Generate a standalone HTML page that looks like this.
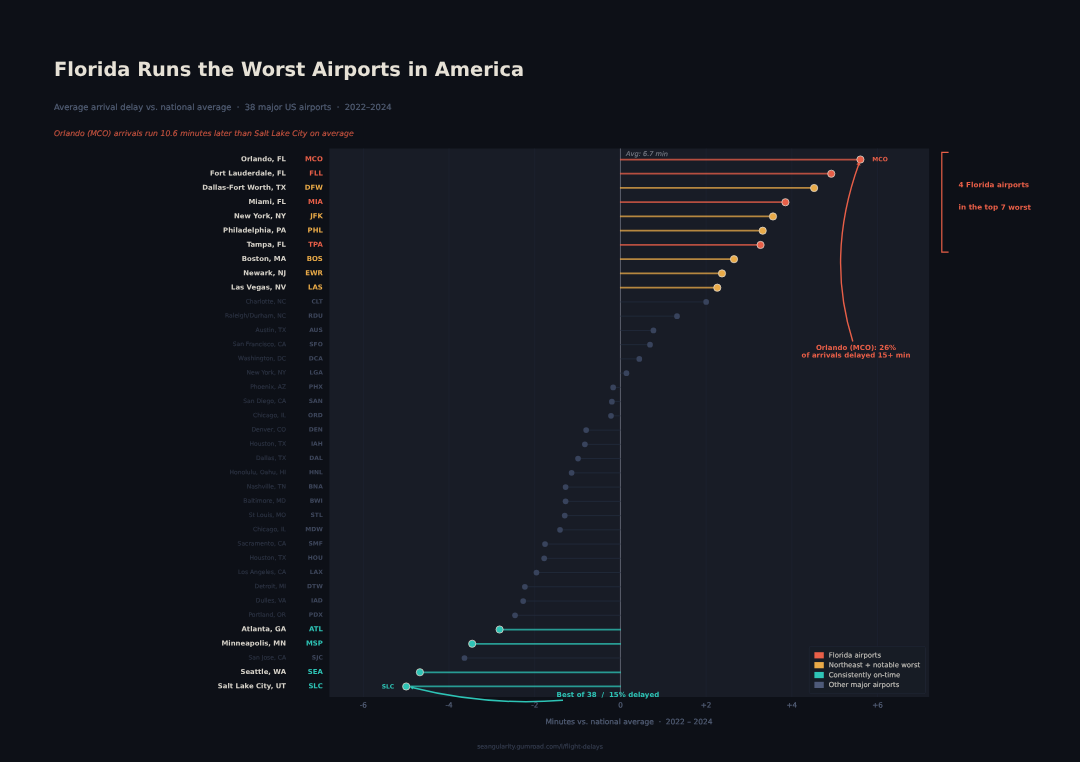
<!DOCTYPE html>
<html lang="en"><head><meta charset="utf-8"><title>Florida Runs the Worst Airports in America</title>
<style>
html,body{margin:0;padding:0;background:#0d1017;}
body{width:1080px;height:762px;overflow:hidden;}
svg{display:block;text-rendering:geometricPrecision;font-family:"DejaVu Sans","Liberation Sans",sans-serif;}
.b{font-weight:bold}.i{font-style:italic}
</style></head><body>
<svg width="1080" height="762" viewBox="0 0 1080 762">
<rect x="0" y="0" width="1080" height="762" fill="#0d1017"/>
<text x="54" y="76" font-size="19.4" fill="#e6e1d6" class="b">Florida Runs the Worst Airports in America</text>
<text x="54" y="110" font-size="8.38" fill="#535f76" stroke="#535f76" stroke-width="0.2" xml:space="preserve">Average arrival delay vs. national average  ·  38 major US airports  ·  2022–2024</text>
<text x="54" y="136" font-size="7.74" fill="#c4523f" stroke="#c4523f" stroke-width="0.15" class="i">Orlando (MCO) arrivals run 10.6 minutes later than Salt Lake City on average</text>
<rect x="329.3" y="148.5" width="599.9" height="548.5" fill="#181c26"/>
<line x1="363.35" y1="148.5" x2="363.35" y2="697" stroke="#1d2230" stroke-width="0.8"/>
<line x1="449.05" y1="148.5" x2="449.05" y2="697" stroke="#1d2230" stroke-width="0.8"/>
<line x1="534.75" y1="148.5" x2="534.75" y2="697" stroke="#1d2230" stroke-width="0.8"/>
<line x1="706.15" y1="148.5" x2="706.15" y2="697" stroke="#1d2230" stroke-width="0.8"/>
<line x1="791.85" y1="148.5" x2="791.85" y2="697" stroke="#1d2230" stroke-width="0.8"/>
<line x1="877.55" y1="148.5" x2="877.55" y2="697" stroke="#1d2230" stroke-width="0.8"/>
<line x1="620.45" y1="148.5" x2="620.45" y2="697" stroke="#585c68" stroke-width="1.05"/>
<line x1="619.95" y1="159.5" x2="860.41" y2="159.5" stroke="#e85f48" stroke-opacity="0.76" stroke-width="1.75"/>
<line x1="619.95" y1="173.74" x2="831.27" y2="173.74" stroke="#e85f48" stroke-opacity="0.76" stroke-width="1.75"/>
<line x1="619.95" y1="187.99" x2="814.13" y2="187.99" stroke="#e9aa48" stroke-opacity="0.76" stroke-width="1.75"/>
<line x1="619.95" y1="202.23" x2="785.42" y2="202.23" stroke="#e85f48" stroke-opacity="0.76" stroke-width="1.75"/>
<line x1="619.95" y1="216.47" x2="773" y2="216.47" stroke="#e9aa48" stroke-opacity="0.76" stroke-width="1.75"/>
<line x1="619.95" y1="230.72" x2="762.71" y2="230.72" stroke="#e9aa48" stroke-opacity="0.76" stroke-width="1.75"/>
<line x1="619.95" y1="244.96" x2="760.57" y2="244.96" stroke="#e85f48" stroke-opacity="0.76" stroke-width="1.75"/>
<line x1="619.95" y1="259.2" x2="734" y2="259.2" stroke="#e9aa48" stroke-opacity="0.76" stroke-width="1.75"/>
<line x1="619.95" y1="273.44" x2="722" y2="273.44" stroke="#e9aa48" stroke-opacity="0.76" stroke-width="1.75"/>
<line x1="619.95" y1="287.69" x2="717.29" y2="287.69" stroke="#e9aa48" stroke-opacity="0.76" stroke-width="1.75"/>
<line x1="620.45" y1="301.93" x2="706.15" y2="301.93" stroke="#212a3b" stroke-width="0.9"/>
<line x1="620.45" y1="316.17" x2="677.01" y2="316.17" stroke="#212a3b" stroke-width="0.9"/>
<line x1="620.45" y1="330.42" x2="653.44" y2="330.42" stroke="#212a3b" stroke-width="0.9"/>
<line x1="620.45" y1="344.66" x2="650.02" y2="344.66" stroke="#212a3b" stroke-width="0.9"/>
<line x1="620.45" y1="358.9" x2="639.3" y2="358.9" stroke="#212a3b" stroke-width="0.9"/>
<line x1="620.45" y1="373.14" x2="626.45" y2="373.14" stroke="#212a3b" stroke-width="0.9"/>
<line x1="620.45" y1="387.39" x2="613.17" y2="387.39" stroke="#212a3b" stroke-width="0.9"/>
<line x1="620.45" y1="401.63" x2="611.88" y2="401.63" stroke="#212a3b" stroke-width="0.9"/>
<line x1="620.45" y1="415.87" x2="611.02" y2="415.87" stroke="#212a3b" stroke-width="0.9"/>
<line x1="620.45" y1="430.12" x2="586.17" y2="430.12" stroke="#212a3b" stroke-width="0.9"/>
<line x1="620.45" y1="444.36" x2="584.88" y2="444.36" stroke="#212a3b" stroke-width="0.9"/>
<line x1="620.45" y1="458.6" x2="578.03" y2="458.6" stroke="#212a3b" stroke-width="0.9"/>
<line x1="620.45" y1="472.85" x2="571.6" y2="472.85" stroke="#212a3b" stroke-width="0.9"/>
<line x1="620.45" y1="487.09" x2="565.6" y2="487.09" stroke="#212a3b" stroke-width="0.9"/>
<line x1="620.45" y1="501.33" x2="565.6" y2="501.33" stroke="#212a3b" stroke-width="0.9"/>
<line x1="620.45" y1="515.58" x2="564.75" y2="515.58" stroke="#212a3b" stroke-width="0.9"/>
<line x1="620.45" y1="529.82" x2="560.03" y2="529.82" stroke="#212a3b" stroke-width="0.9"/>
<line x1="620.45" y1="544.06" x2="545.03" y2="544.06" stroke="#212a3b" stroke-width="0.9"/>
<line x1="620.45" y1="558.3" x2="544.18" y2="558.3" stroke="#212a3b" stroke-width="0.9"/>
<line x1="620.45" y1="572.55" x2="536.46" y2="572.55" stroke="#212a3b" stroke-width="0.9"/>
<line x1="620.45" y1="586.79" x2="524.89" y2="586.79" stroke="#212a3b" stroke-width="0.9"/>
<line x1="620.45" y1="601.03" x2="523.18" y2="601.03" stroke="#212a3b" stroke-width="0.9"/>
<line x1="620.45" y1="615.28" x2="515.04" y2="615.28" stroke="#212a3b" stroke-width="0.9"/>
<line x1="620.95" y1="629.52" x2="499.61" y2="629.52" stroke="#2ec4b6" stroke-opacity="0.76" stroke-width="1.75"/>
<line x1="620.95" y1="643.76" x2="472.19" y2="643.76" stroke="#2ec4b6" stroke-opacity="0.76" stroke-width="1.75"/>
<line x1="620.45" y1="658" x2="464.48" y2="658" stroke="#212a3b" stroke-width="0.9"/>
<line x1="620.95" y1="672.25" x2="419.91" y2="672.25" stroke="#2ec4b6" stroke-opacity="0.76" stroke-width="1.75"/>
<line x1="620.95" y1="686.49" x2="406.2" y2="686.49" stroke="#2ec4b6" stroke-opacity="0.76" stroke-width="1.75"/>
<circle cx="860.41" cy="159.5" r="3.6" fill="#e85f48" stroke="#dcd4c9" stroke-width="0.8"/>
<circle cx="831.27" cy="173.74" r="3.6" fill="#e85f48" stroke="#dcd4c9" stroke-width="0.8"/>
<circle cx="814.13" cy="187.99" r="3.6" fill="#e9aa48" stroke="#dcd4c9" stroke-width="0.8"/>
<circle cx="785.42" cy="202.23" r="3.6" fill="#e85f48" stroke="#dcd4c9" stroke-width="0.8"/>
<circle cx="773" cy="216.47" r="3.6" fill="#e9aa48" stroke="#dcd4c9" stroke-width="0.8"/>
<circle cx="762.71" cy="230.72" r="3.6" fill="#e9aa48" stroke="#dcd4c9" stroke-width="0.8"/>
<circle cx="760.57" cy="244.96" r="3.6" fill="#e85f48" stroke="#dcd4c9" stroke-width="0.8"/>
<circle cx="734" cy="259.2" r="3.6" fill="#e9aa48" stroke="#dcd4c9" stroke-width="0.8"/>
<circle cx="722" cy="273.44" r="3.6" fill="#e9aa48" stroke="#dcd4c9" stroke-width="0.8"/>
<circle cx="717.29" cy="287.69" r="3.6" fill="#e9aa48" stroke="#dcd4c9" stroke-width="0.8"/>
<circle cx="706.15" cy="301.93" r="2.85" fill="#38435c"/>
<circle cx="677.01" cy="316.17" r="2.85" fill="#38435c"/>
<circle cx="653.44" cy="330.42" r="2.85" fill="#38435c"/>
<circle cx="650.02" cy="344.66" r="2.85" fill="#38435c"/>
<circle cx="639.3" cy="358.9" r="2.85" fill="#38435c"/>
<circle cx="626.45" cy="373.14" r="2.85" fill="#38435c"/>
<circle cx="613.17" cy="387.39" r="2.85" fill="#38435c"/>
<circle cx="611.88" cy="401.63" r="2.85" fill="#38435c"/>
<circle cx="611.02" cy="415.87" r="2.85" fill="#38435c"/>
<circle cx="586.17" cy="430.12" r="2.85" fill="#38435c"/>
<circle cx="584.88" cy="444.36" r="2.85" fill="#38435c"/>
<circle cx="578.03" cy="458.6" r="2.85" fill="#38435c"/>
<circle cx="571.6" cy="472.85" r="2.85" fill="#38435c"/>
<circle cx="565.6" cy="487.09" r="2.85" fill="#38435c"/>
<circle cx="565.6" cy="501.33" r="2.85" fill="#38435c"/>
<circle cx="564.75" cy="515.58" r="2.85" fill="#38435c"/>
<circle cx="560.03" cy="529.82" r="2.85" fill="#38435c"/>
<circle cx="545.03" cy="544.06" r="2.85" fill="#38435c"/>
<circle cx="544.18" cy="558.3" r="2.85" fill="#38435c"/>
<circle cx="536.46" cy="572.55" r="2.85" fill="#38435c"/>
<circle cx="524.89" cy="586.79" r="2.85" fill="#38435c"/>
<circle cx="523.18" cy="601.03" r="2.85" fill="#38435c"/>
<circle cx="515.04" cy="615.28" r="2.85" fill="#38435c"/>
<circle cx="499.61" cy="629.52" r="3.6" fill="#2ec4b6" stroke="#dcd4c9" stroke-width="0.8"/>
<circle cx="472.19" cy="643.76" r="3.6" fill="#2ec4b6" stroke="#dcd4c9" stroke-width="0.8"/>
<circle cx="464.48" cy="658" r="2.85" fill="#38435c"/>
<circle cx="419.91" cy="672.25" r="3.6" fill="#2ec4b6" stroke="#dcd4c9" stroke-width="0.8"/>
<circle cx="406.2" cy="686.49" r="3.6" fill="#2ec4b6" stroke="#dcd4c9" stroke-width="0.8"/>
<text transform="rotate(0.05 286 161.3)" x="286" y="161.3" font-size="6.9" fill="#d6d2c9" text-anchor="end" class="b">Orlando, FL</text>
<text transform="rotate(0.05 322.8 161.3)" x="322.8" y="161.3" font-size="6.9" fill="#e85f48" text-anchor="end" class="b">MCO</text>
<text transform="rotate(0.05 286 175.54)" x="286" y="175.54" font-size="6.9" fill="#d6d2c9" text-anchor="end" class="b">Fort Lauderdale, FL</text>
<text transform="rotate(0.05 322.8 175.54)" x="322.8" y="175.54" font-size="6.9" fill="#e85f48" text-anchor="end" class="b">FLL</text>
<text transform="rotate(0.05 286 189.79)" x="286" y="189.79" font-size="6.9" fill="#d6d2c9" text-anchor="end" class="b">Dallas-Fort Worth, TX</text>
<text transform="rotate(0.05 322.8 189.79)" x="322.8" y="189.79" font-size="6.9" fill="#e9aa48" text-anchor="end" class="b">DFW</text>
<text transform="rotate(0.05 286 204.03)" x="286" y="204.03" font-size="6.9" fill="#d6d2c9" text-anchor="end" class="b">Miami, FL</text>
<text transform="rotate(0.05 322.8 204.03)" x="322.8" y="204.03" font-size="6.9" fill="#e85f48" text-anchor="end" class="b">MIA</text>
<text transform="rotate(0.05 286 218.27)" x="286" y="218.27" font-size="6.9" fill="#d6d2c9" text-anchor="end" class="b">New York, NY</text>
<text transform="rotate(0.05 322.8 218.27)" x="322.8" y="218.27" font-size="6.9" fill="#e9aa48" text-anchor="end" class="b">JFK</text>
<text transform="rotate(0.05 286 232.52)" x="286" y="232.52" font-size="6.9" fill="#d6d2c9" text-anchor="end" class="b">Philadelphia, PA</text>
<text transform="rotate(0.05 322.8 232.52)" x="322.8" y="232.52" font-size="6.9" fill="#e9aa48" text-anchor="end" class="b">PHL</text>
<text transform="rotate(0.05 286 246.76)" x="286" y="246.76" font-size="6.9" fill="#d6d2c9" text-anchor="end" class="b">Tampa, FL</text>
<text transform="rotate(0.05 322.8 246.76)" x="322.8" y="246.76" font-size="6.9" fill="#e85f48" text-anchor="end" class="b">TPA</text>
<text transform="rotate(0.05 286 261)" x="286" y="261" font-size="6.9" fill="#d6d2c9" text-anchor="end" class="b">Boston, MA</text>
<text transform="rotate(0.05 322.8 261)" x="322.8" y="261" font-size="6.9" fill="#e9aa48" text-anchor="end" class="b">BOS</text>
<text transform="rotate(0.05 286 275.24)" x="286" y="275.24" font-size="6.9" fill="#d6d2c9" text-anchor="end" class="b">Newark, NJ</text>
<text transform="rotate(0.05 322.8 275.24)" x="322.8" y="275.24" font-size="6.9" fill="#e9aa48" text-anchor="end" class="b">EWR</text>
<text transform="rotate(0.05 286 289.49)" x="286" y="289.49" font-size="6.9" fill="#d6d2c9" text-anchor="end" class="b">Las Vegas, NV</text>
<text transform="rotate(0.05 322.8 289.49)" x="322.8" y="289.49" font-size="6.9" fill="#e9aa48" text-anchor="end" class="b">LAS</text>
<text transform="rotate(0.05 286 303.43)" x="286" y="303.43" font-size="6" fill="#2d3444" stroke="#2d3444" stroke-width="0.15" text-anchor="end">Charlotte, NC</text>
<text transform="rotate(0.05 322.8 303.43)" x="322.8" y="303.43" font-size="6" fill="#3e475c" text-anchor="end" class="b">CLT</text>
<text transform="rotate(0.05 286 317.67)" x="286" y="317.67" font-size="6" fill="#2d3444" stroke="#2d3444" stroke-width="0.15" text-anchor="end">Raleigh/Durham, NC</text>
<text transform="rotate(0.05 322.8 317.67)" x="322.8" y="317.67" font-size="6" fill="#3e475c" text-anchor="end" class="b">RDU</text>
<text transform="rotate(0.05 286 331.92)" x="286" y="331.92" font-size="6" fill="#2d3444" stroke="#2d3444" stroke-width="0.15" text-anchor="end">Austin, TX</text>
<text transform="rotate(0.05 322.8 331.92)" x="322.8" y="331.92" font-size="6" fill="#3e475c" text-anchor="end" class="b">AUS</text>
<text transform="rotate(0.05 286 346.16)" x="286" y="346.16" font-size="6" fill="#2d3444" stroke="#2d3444" stroke-width="0.15" text-anchor="end">San Francisco, CA</text>
<text transform="rotate(0.05 322.8 346.16)" x="322.8" y="346.16" font-size="6" fill="#3e475c" text-anchor="end" class="b">SFO</text>
<text transform="rotate(0.05 286 360.4)" x="286" y="360.4" font-size="6" fill="#2d3444" stroke="#2d3444" stroke-width="0.15" text-anchor="end">Washington, DC</text>
<text transform="rotate(0.05 322.8 360.4)" x="322.8" y="360.4" font-size="6" fill="#3e475c" text-anchor="end" class="b">DCA</text>
<text transform="rotate(0.05 286 374.64)" x="286" y="374.64" font-size="6" fill="#2d3444" stroke="#2d3444" stroke-width="0.15" text-anchor="end">New York, NY</text>
<text transform="rotate(0.05 322.8 374.64)" x="322.8" y="374.64" font-size="6" fill="#3e475c" text-anchor="end" class="b">LGA</text>
<text transform="rotate(0.05 286 388.89)" x="286" y="388.89" font-size="6" fill="#2d3444" stroke="#2d3444" stroke-width="0.15" text-anchor="end">Phoenix, AZ</text>
<text transform="rotate(0.05 322.8 388.89)" x="322.8" y="388.89" font-size="6" fill="#3e475c" text-anchor="end" class="b">PHX</text>
<text transform="rotate(0.05 286 403.13)" x="286" y="403.13" font-size="6" fill="#2d3444" stroke="#2d3444" stroke-width="0.15" text-anchor="end">San Diego, CA</text>
<text transform="rotate(0.05 322.8 403.13)" x="322.8" y="403.13" font-size="6" fill="#3e475c" text-anchor="end" class="b">SAN</text>
<text transform="rotate(0.05 286 417.37)" x="286" y="417.37" font-size="6" fill="#2d3444" stroke="#2d3444" stroke-width="0.15" text-anchor="end">Chicago, IL</text>
<text transform="rotate(0.05 322.8 417.37)" x="322.8" y="417.37" font-size="6" fill="#3e475c" text-anchor="end" class="b">ORD</text>
<text transform="rotate(0.05 286 431.62)" x="286" y="431.62" font-size="6" fill="#2d3444" stroke="#2d3444" stroke-width="0.15" text-anchor="end">Denver, CO</text>
<text transform="rotate(0.05 322.8 431.62)" x="322.8" y="431.62" font-size="6" fill="#3e475c" text-anchor="end" class="b">DEN</text>
<text transform="rotate(0.05 286 445.86)" x="286" y="445.86" font-size="6" fill="#2d3444" stroke="#2d3444" stroke-width="0.15" text-anchor="end">Houston, TX</text>
<text transform="rotate(0.05 322.8 445.86)" x="322.8" y="445.86" font-size="6" fill="#3e475c" text-anchor="end" class="b">IAH</text>
<text transform="rotate(0.05 286 460.1)" x="286" y="460.1" font-size="6" fill="#2d3444" stroke="#2d3444" stroke-width="0.15" text-anchor="end">Dallas, TX</text>
<text transform="rotate(0.05 322.8 460.1)" x="322.8" y="460.1" font-size="6" fill="#3e475c" text-anchor="end" class="b">DAL</text>
<text transform="rotate(0.05 286 474.35)" x="286" y="474.35" font-size="6" fill="#2d3444" stroke="#2d3444" stroke-width="0.15" text-anchor="end">Honolulu, Oahu, HI</text>
<text transform="rotate(0.05 322.8 474.35)" x="322.8" y="474.35" font-size="6" fill="#3e475c" text-anchor="end" class="b">HNL</text>
<text transform="rotate(0.05 286 488.59)" x="286" y="488.59" font-size="6" fill="#2d3444" stroke="#2d3444" stroke-width="0.15" text-anchor="end">Nashville, TN</text>
<text transform="rotate(0.05 322.8 488.59)" x="322.8" y="488.59" font-size="6" fill="#3e475c" text-anchor="end" class="b">BNA</text>
<text transform="rotate(0.05 286 502.83)" x="286" y="502.83" font-size="6" fill="#2d3444" stroke="#2d3444" stroke-width="0.15" text-anchor="end">Baltimore, MD</text>
<text transform="rotate(0.05 322.8 502.83)" x="322.8" y="502.83" font-size="6" fill="#3e475c" text-anchor="end" class="b">BWI</text>
<text transform="rotate(0.05 286 517.08)" x="286" y="517.08" font-size="6" fill="#2d3444" stroke="#2d3444" stroke-width="0.15" text-anchor="end">St Louis, MO</text>
<text transform="rotate(0.05 322.8 517.08)" x="322.8" y="517.08" font-size="6" fill="#3e475c" text-anchor="end" class="b">STL</text>
<text transform="rotate(0.05 286 531.32)" x="286" y="531.32" font-size="6" fill="#2d3444" stroke="#2d3444" stroke-width="0.15" text-anchor="end">Chicago, IL</text>
<text transform="rotate(0.05 322.8 531.32)" x="322.8" y="531.32" font-size="6" fill="#3e475c" text-anchor="end" class="b">MDW</text>
<text transform="rotate(0.05 286 545.56)" x="286" y="545.56" font-size="6" fill="#2d3444" stroke="#2d3444" stroke-width="0.15" text-anchor="end">Sacramento, CA</text>
<text transform="rotate(0.05 322.8 545.56)" x="322.8" y="545.56" font-size="6" fill="#3e475c" text-anchor="end" class="b">SMF</text>
<text transform="rotate(0.05 286 559.8)" x="286" y="559.8" font-size="6" fill="#2d3444" stroke="#2d3444" stroke-width="0.15" text-anchor="end">Houston, TX</text>
<text transform="rotate(0.05 322.8 559.8)" x="322.8" y="559.8" font-size="6" fill="#3e475c" text-anchor="end" class="b">HOU</text>
<text transform="rotate(0.05 286 574.05)" x="286" y="574.05" font-size="6" fill="#2d3444" stroke="#2d3444" stroke-width="0.15" text-anchor="end">Los Angeles, CA</text>
<text transform="rotate(0.05 322.8 574.05)" x="322.8" y="574.05" font-size="6" fill="#3e475c" text-anchor="end" class="b">LAX</text>
<text transform="rotate(0.05 286 588.29)" x="286" y="588.29" font-size="6" fill="#2d3444" stroke="#2d3444" stroke-width="0.15" text-anchor="end">Detroit, MI</text>
<text transform="rotate(0.05 322.8 588.29)" x="322.8" y="588.29" font-size="6" fill="#3e475c" text-anchor="end" class="b">DTW</text>
<text transform="rotate(0.05 286 602.53)" x="286" y="602.53" font-size="6" fill="#2d3444" stroke="#2d3444" stroke-width="0.15" text-anchor="end">Dulles, VA</text>
<text transform="rotate(0.05 322.8 602.53)" x="322.8" y="602.53" font-size="6" fill="#3e475c" text-anchor="end" class="b">IAD</text>
<text transform="rotate(0.05 286 616.78)" x="286" y="616.78" font-size="6" fill="#2d3444" stroke="#2d3444" stroke-width="0.15" text-anchor="end">Portland, OR</text>
<text transform="rotate(0.05 322.8 616.78)" x="322.8" y="616.78" font-size="6" fill="#3e475c" text-anchor="end" class="b">PDX</text>
<text transform="rotate(0.05 286 631.32)" x="286" y="631.32" font-size="6.9" fill="#d6d2c9" text-anchor="end" class="b">Atlanta, GA</text>
<text transform="rotate(0.05 322.8 631.32)" x="322.8" y="631.32" font-size="6.9" fill="#2ec4b6" text-anchor="end" class="b">ATL</text>
<text transform="rotate(0.05 286 645.56)" x="286" y="645.56" font-size="6.9" fill="#d6d2c9" text-anchor="end" class="b">Minneapolis, MN</text>
<text transform="rotate(0.05 322.8 645.56)" x="322.8" y="645.56" font-size="6.9" fill="#2ec4b6" text-anchor="end" class="b">MSP</text>
<text transform="rotate(0.05 286 659.5)" x="286" y="659.5" font-size="6" fill="#2d3444" stroke="#2d3444" stroke-width="0.15" text-anchor="end">San Jose, CA</text>
<text transform="rotate(0.05 322.8 659.5)" x="322.8" y="659.5" font-size="6" fill="#3e475c" text-anchor="end" class="b">SJC</text>
<text transform="rotate(0.05 286 674.05)" x="286" y="674.05" font-size="6.9" fill="#d6d2c9" text-anchor="end" class="b">Seattle, WA</text>
<text transform="rotate(0.05 322.8 674.05)" x="322.8" y="674.05" font-size="6.9" fill="#2ec4b6" text-anchor="end" class="b">SEA</text>
<text transform="rotate(0.05 286 688.29)" x="286" y="688.29" font-size="6.9" fill="#d6d2c9" text-anchor="end" class="b">Salt Lake City, UT</text>
<text transform="rotate(0.05 322.8 688.29)" x="322.8" y="688.29" font-size="6.9" fill="#2ec4b6" text-anchor="end" class="b">SLC</text>
<text transform="rotate(0.05 626 156.1)" x="626" y="156.1" font-size="6.62" fill="#777b85" stroke="#777b85" stroke-width="0.15" class="i">Avg: 6.7 min</text>
<text transform="rotate(0.05 872.3 161.3)" x="872.3" y="161.3" font-size="6" fill="#e85f48" class="b">MCO</text>
<text transform="rotate(0.05 394.2 688.6)" x="394.2" y="688.6" font-size="6" fill="#2ec4b6" text-anchor="end" class="b">SLC</text>
<path d="M852.8 341.5 Q825.5 255.3 859.2 163" fill="none" stroke="#e85f48" stroke-width="1.4"/>
<path d="M859.4 162 L860.5 165.7 L856.2 164.2 Z" fill="#e85f48"/>
<text transform="rotate(0.05 856 350)" x="856" y="350" font-size="7" fill="#e85f48" text-anchor="middle" class="b">Orlando (MCO): 26%</text>
<text transform="rotate(0.05 856 357.5)" x="856" y="357.5" font-size="7" fill="#e85f48" text-anchor="middle" class="b">of arrivals delayed 15+ min</text>
<path d="M563 700.2 Q486.5 706.3 410.9 687.3" fill="none" stroke="#2ec4b6" stroke-width="1.45"/>
<path d="M409.9 686.9 L413.5 685.9 L412.6 689.6 Z" fill="#2ec4b6"/>
<text transform="rotate(0.05 556.6 697)" x="556.6" y="697" font-size="7" fill="#2ec4b6" class="b" xml:space="preserve">Best of 38  /  15% delayed</text>
<path d="M948.6 152.3 H941.8 V252.2 H948.6" fill="none" stroke="#e85f48" stroke-width="1.2"/>
<text transform="rotate(0.05 958.6 187.3)" x="958.6" y="187.3" font-size="7.2" fill="#e85f48" class="b">4 Florida airports</text>
<text transform="rotate(0.05 958.6 209.6)" x="958.6" y="209.6" font-size="7.2" fill="#e85f48" class="b">in the top 7 worst</text>
<rect x="809.3" y="646.4" width="116.2" height="47.3" rx="1.5" fill="#181c26" fill-opacity="0.85" stroke="#202534" stroke-width="0.7"/>
<rect x="814.4" y="652.2" width="9.4" height="6.2" fill="#e85f48"/>
<text transform="rotate(0.05 828.8 657.4)" x="828.8" y="657.4" font-size="6.9" fill="#c9c6bf" stroke="#c9c6bf" stroke-width="0.12">Florida airports</text>
<rect x="814.4" y="662.07" width="9.4" height="6.2" fill="#e9aa48"/>
<text transform="rotate(0.05 828.8 667.27)" x="828.8" y="667.27" font-size="6.9" fill="#c9c6bf" stroke="#c9c6bf" stroke-width="0.12">Northeast + notable worst</text>
<rect x="814.4" y="671.94" width="9.4" height="6.2" fill="#2ec4b6"/>
<text transform="rotate(0.05 828.8 677.14)" x="828.8" y="677.14" font-size="6.9" fill="#c9c6bf" stroke="#c9c6bf" stroke-width="0.12">Consistently on-time</text>
<rect x="814.4" y="681.81" width="9.4" height="6.2" fill="#4e5a79"/>
<text transform="rotate(0.05 828.8 687.01)" x="828.8" y="687.01" font-size="6.9" fill="#c9c6bf" stroke="#c9c6bf" stroke-width="0.12">Other major airports</text>
<text transform="rotate(0.05 363.35 707.4)" x="363.35" y="707.4" font-size="7.2" fill="#56627b" stroke="#56627b" stroke-width="0.2" text-anchor="middle">-6</text>
<text transform="rotate(0.05 449.05 707.4)" x="449.05" y="707.4" font-size="7.2" fill="#56627b" stroke="#56627b" stroke-width="0.2" text-anchor="middle">-4</text>
<text transform="rotate(0.05 534.75 707.4)" x="534.75" y="707.4" font-size="7.2" fill="#56627b" stroke="#56627b" stroke-width="0.2" text-anchor="middle">-2</text>
<text transform="rotate(0.05 620.45 707.4)" x="620.45" y="707.4" font-size="7.2" fill="#56627b" stroke="#56627b" stroke-width="0.2" text-anchor="middle">0</text>
<text transform="rotate(0.05 706.15 707.4)" x="706.15" y="707.4" font-size="7.2" fill="#56627b" stroke="#56627b" stroke-width="0.2" text-anchor="middle">+2</text>
<text transform="rotate(0.05 791.85 707.4)" x="791.85" y="707.4" font-size="7.2" fill="#56627b" stroke="#56627b" stroke-width="0.2" text-anchor="middle">+4</text>
<text transform="rotate(0.05 877.55 707.4)" x="877.55" y="707.4" font-size="7.2" fill="#56627b" stroke="#56627b" stroke-width="0.2" text-anchor="middle">+6</text>
<text transform="rotate(0.05 628.95 724.3)" x="628.95" y="724.3" font-size="7.5" fill="#525e76" stroke="#525e76" stroke-width="0.22" text-anchor="middle" xml:space="preserve">Minutes vs. national average  ·  2022 – 2024</text>
<text transform="rotate(0.05 540 748.6)" x="540" y="748.6" font-size="6.15" fill="#343c4e" stroke="#343c4e" stroke-width="0.2" text-anchor="middle">seangularity.gumroad.com/l/flight-delays</text>
</svg></body></html>
